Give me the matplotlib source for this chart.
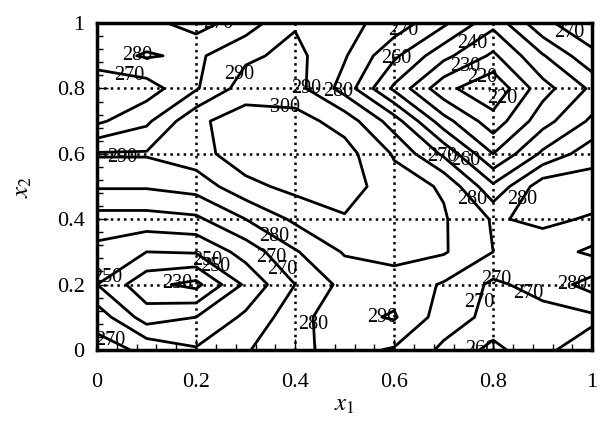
import numpy as np
import matplotlib
matplotlib.use("Agg")
import matplotlib.pyplot as plt
from matplotlib.ticker import MultipleLocator

plt.rcParams['font.family'] = 'Liberation Serif'
plt.rcParams['mathtext.fontset'] = 'stix'

# grid nodes
x1 = [0.0, 0.1, 0.2, 0.3, 0.4, 0.5, 0.6, 0.7, 0.8, 0.9, 1.0]
x2 = [0.0, 0.1, 0.2, 0.3, 0.4, 0.5, 0.6, 0.7, 0.8, 0.9, 1.0]

# values, one row per x2 (bottom to top)
row_00 = [274, 268, 261, 269, 278, 283, 279, 268, 257, 268, 275]
row_01 = [266, 245, 250, 262, 276, 287, 291, 275, 267, 266, 268]
row_02 = [250, 233, 227, 252, 270, 283, 286, 279, 268, 274, 284]
row_03 = [257, 250, 251, 264, 279, 291, 293, 291, 280, 275, 268]
row_04 = [266, 266, 268, 280, 292, 299, 295, 291, 279, 282, 279]
row_05 = [281, 281, 284, 297, 303, 305, 294, 289, 262, 286, 285]
row_06 = [291, 291, 296, 306, 308, 304, 289, 268, 240, 262, 276]
row_07 = [268, 278, 298, 305, 304, 296, 275, 244, 224, 246, 262]
row_08 = [262, 265, 279, 295, 294, 276, 248, 223, 212, 236, 252]
row_09 = [276, 281, 278, 288, 293, 281, 262, 243, 228, 249, 268]
row_10 = [279, 273, 266, 275, 289, 283, 276, 262, 243, 268, 276]

levels = [220, 230, 240, 250, 260, 270, 280, 290, 300]
ticks = [0, 0.2, 0.4, 0.6, 0.8, 1.0]
tick_labels = ['0', '0.2', '0.4', '0.6', '0.8', '1']

# where the contour labels sit
label_pos = [(0.07, 0.93), (0.26, 0.98), (0.27, 0.86), (0.06, 0.80),
             (0.42, 0.80), (0.38, 0.76), (0.49, 0.80), (0.61, 0.88),
             (0.62, 0.975), (0.76, 0.93), (0.74, 0.88), (0.78, 0.83),
             (0.80, 0.79), (0.95, 0.96), (0.70, 0.60), (0.75, 0.59),
             (0.05, 0.58), (0.75, 0.45), (0.87, 0.45), (0.35, 0.33),
             (0.35, 0.28), (0.37, 0.24), (0.22, 0.27), (0.24, 0.26),
             (0.16, 0.22), (0.03, 0.20), (0.03, 0.04), (0.48, 0.08),
             (0.55, 0.08), (0.81, 0.235), (0.87, 0.17), (0.78, 0.14),
             (0.95, 0.22), (0.77, 0.01)]

Z = np.array([row_00, row_01, row_02, row_03, row_04, row_05,
              row_06, row_07, row_08, row_09, row_10], dtype=float)
X, Y = np.meshgrid(x1, x2)

fig = plt.figure(figsize=(6.03, 4.21), dpi=100)
ax = fig.add_axes([0.161, 0.169, 0.821, 0.776])

cs = ax.contour(X, Y, Z, levels=levels, colors='k', linewidths=2)
lbls = ax.clabel(cs, fmt='%d', inline=False, fontsize=14.5, colors='k',
                 manual=label_pos)
for t in lbls:
    t.set_rotation(0)

ax.set_xlim(0, 1)
ax.set_ylim(0, 1)
ax.set_xticks(ticks)
ax.set_xticklabels(tick_labels)
ax.set_yticks(ticks)
ax.set_yticklabels(tick_labels)
ax.xaxis.set_minor_locator(MultipleLocator(0.04))
ax.yaxis.set_minor_locator(MultipleLocator(0.04))
ax.tick_params(which='both', direction='in', labelsize=16, top=False, right=False)
ax.tick_params(which='major', length=8, width=1)
ax.tick_params(which='minor', length=4, width=1)
ax.tick_params(axis='x', pad=17)
ax.tick_params(axis='y', pad=9)
ax.grid(True, which='major', color='k', linestyle=':', linewidth=1.8)
for s in ax.spines.values():
    s.set_linewidth(2.5)

ax.set_xlabel('$x_1$', fontsize=18, labelpad=1)
ax.set_ylabel('$x_2$', fontsize=18, labelpad=16)

fig.savefig('out.png', dpi=100)
